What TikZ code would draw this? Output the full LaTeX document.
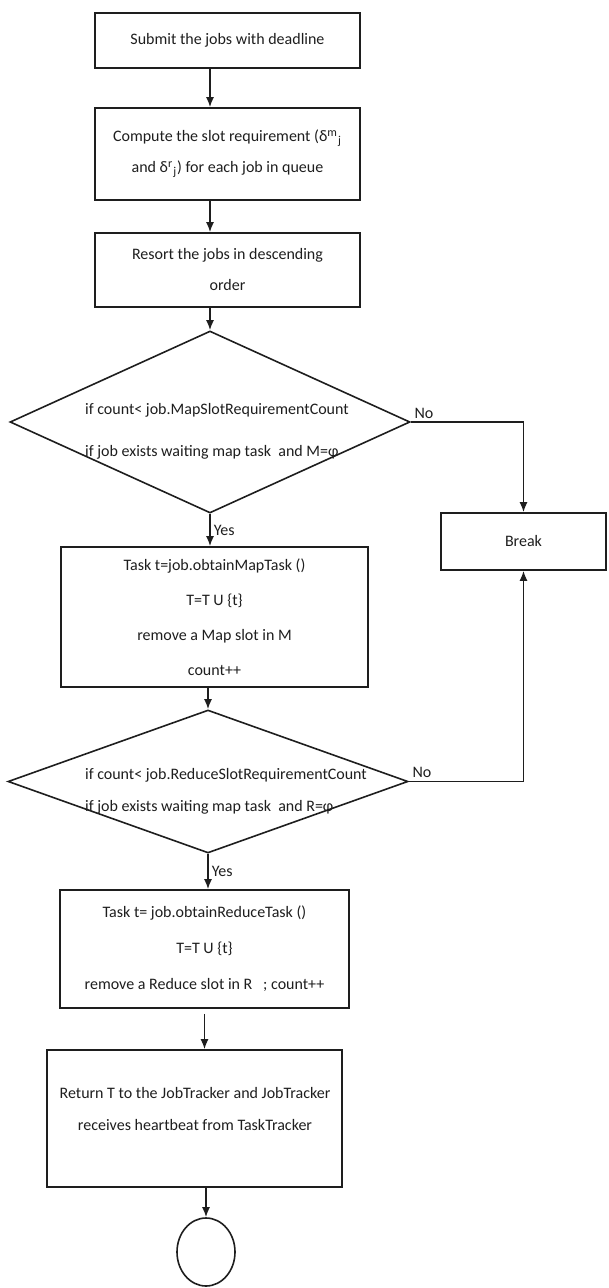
\documentclass[tikz,border=0pt]{standalone}
\usepackage{fontspec}
\setmainfont{Carlito}
\usetikzlibrary{arrows.meta, shapes.geometric, calc}
\definecolor{ink}{RGB}{30, 30, 30}

\begin{document}
\begin{tikzpicture}[
    x=0.5pt, y=-0.5pt,
    every node/.style={font=\fontsize{8}{15.5}\selectfont, text=ink},
    stepbox/.style={draw=ink, line width=0.8pt, rectangle, inner sep=2pt, align=center},
    decision/.style={draw=ink, line width=0.8pt, diamond, inner sep=0pt},
    txt/.style={align=left, inner sep=0pt},
    terminal/.style={draw=ink, line width=0.8pt, ellipse, minimum width=29pt, minimum height=34pt},
    flow/.style={draw=ink, line width=0.8pt, -{Latex[length=5pt, width=4pt]}},
    lbl/.style={inner sep=1.5pt},
  ]
  \useasboundingbox (0,0) rectangle (609,1288);
  \node[stepbox, minimum width=132.5pt, minimum height=27.5pt] (submit) at (227.5,40.5)
    {Submit the jobs with deadline};
  \node[stepbox, minimum width=132.5pt, minimum height=46pt] (compute) at (227.5,154)
    {Compute the slot requirement (δ\textsuperscript{m}\textsubscript{j}\\
     and δ\textsuperscript{r}\textsubscript{j}) for each job in queue};
  \node[stepbox, minimum width=132.5pt, minimum height=37pt] (resort) at (227.5,270)
    {Resort the jobs in descending\\order};
  \node[decision, minimum width=200pt, minimum height=91pt] (dec1) at (210,422) {};
  \node[txt, font=\fontsize{8}{21}\selectfont] (dec1txt) at (217,431)
    {if count< job.MapSlotRequirementCount\\if job exists waiting map task~ and M=φ};
  \node[stepbox, minimum width=82.5pt, minimum height=28.5pt] (brk) at (523.5,541.5) {Break};
  \node[stepbox, minimum width=153.5pt, minimum height=70pt, font=\fontsize{8}{17.5}\selectfont]
    (maptask) at (214.5,617)
    {Task t=job.obtainMapTask ()\\T=T U \{t\}\\remove a Map slot in M\\count++};
  \node[decision, minimum width=200pt, minimum height=71.5pt] (dec2) at (208,781.5) {};
  \node[txt, font=\fontsize{8}{16}\selectfont] (dec2txt) at (226,791)
    {if count< job.ReduceSlotRequirementCount\\if job exists waiting map task~ and R=φ};
  \node[stepbox, minimum width=144.5pt, minimum height=59pt, font=\fontsize{8}{18}\selectfont]
    (reducetask) at (204.5,949)
    {Task t= job.obtainReduceTask ()\\T=T U \{t\}\\remove a Reduce slot in R~~~; count++};
  \node[stepbox, minimum width=147.5pt, minimum height=68.5pt] (giveback) at (194.5,1118.5) {};
  \node[txt, align=center, font=\fontsize{8}{16}\selectfont] (givebacktxt) at (195,1109)
    {Return T to the JobTracker and JobTracker\\receives heartbeat from TaskTracker};
  \node[terminal] (endc) at (206,1252) {};

  \draw[flow] (submit.south -| dec1.north) -- (compute.north -| dec1.north);
  \draw[flow] (compute.south -| dec1.north) -- (resort.north -| dec1.north);
  \draw[flow] (resort.south -| dec1.north) -- (dec1.north);
  \draw[flow] (dec1.south) -- (dec1.south |- maptask.north) node[lbl, midway, right] (yes1) {Yes};
  \draw[flow] (dec1.east) node[lbl, above right] (no1) {No} -| (brk.north);
  \draw[flow] (maptask.south -| dec2.north) -- (dec2.north);
  \draw[flow] (dec2.east) node[lbl, above right] (no2) {No} -| (brk.south);
  \draw[flow] (dec2.south) -- (dec2.south |- reducetask.north) node[lbl, midway, right] (yes2) {Yes};
  \draw[flow] ([yshift=-2.5pt]reducetask.south) -- (reducetask.south |- giveback.north);
  \draw[flow] (giveback.south -| endc.north) -- (endc.north);
\end{tikzpicture}
\end{document}
